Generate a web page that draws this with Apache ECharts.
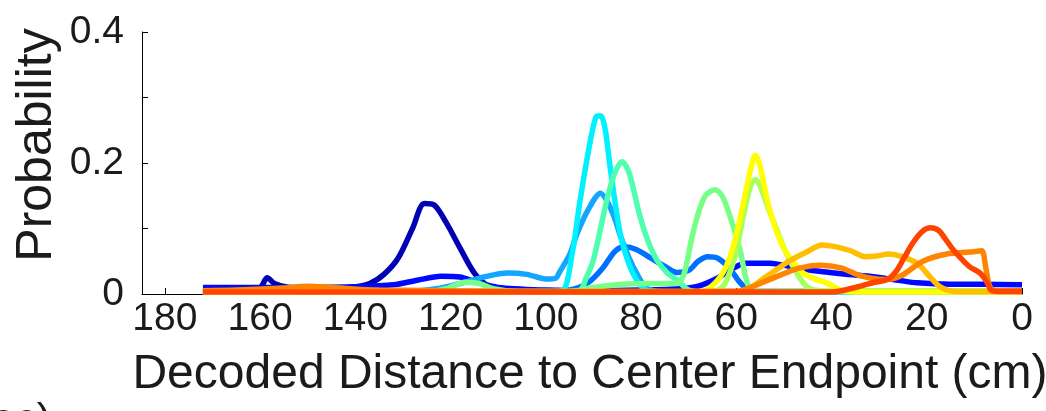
<!DOCTYPE html>
<html>
<head>
<meta charset="utf-8">
<title>Decoded distance probability</title>
<script src="https://cdn.jsdelivr.net/npm/echarts@6/dist/echarts.min.js"></script>
<style>
  html, body { margin: 0; padding: 0; background: #fff; }
  #chart { width: 1046px; height: 411px; }
</style>
</head>
<body>
<div id="chart"></div>
<script>
  // tick labels
  var xTicks = [0, 20, 40, 60, 80, 100, 120, 140, 160, 180];
  var yLabels = [0, 0.2, 0.4];

  // decoded distance (cm), probability -- one list per trace
  var trace125 = [[172,0.006],[165,0.006],[160,0.01],[158.5,0.025],[157,0.016],[154,0.01],[148,0.008],[141,0.01],[137,0.016],[134,0.03],[131,0.055],[128,0.1],[125.5,0.138],[123.5,0.136],[121,0.11],[118,0.07],[115,0.032],[112,0.012],[108,0.005],[100,0.003],[80,0.003],[60,0.004],[40,0.004],[20,0.004],[0,0.004]];
  var trace120 = [[172,0.01],[150,0.01],[140,0.011],[132,0.014],[127,0.021],[122,0.027],[118,0.026],[115,0.019],[110,0.01],[100,0.006],[90,0.005],[80,0.006],[72,0.008],[68,0.012],[64,0.024],[61,0.038],[58,0.047],[53,0.047],[48,0.041],[43,0.035],[38,0.031],[32,0.027],[26,0.021],[22,0.017],[15,0.015],[8,0.015],[0,0.014]];
  var trace83 = [[172,0.004],[100,0.004],[95,0.006],[91,0.018],[88,0.04],[85.5,0.065],[83.5,0.072],[81,0.068],[78,0.055],[75,0.042],[72.5,0.033],[70,0.036],[68,0.05],[66,0.057],[64,0.055],[61.5,0.04],[59.5,0.02],[57.5,0.006],[55,0.003],[0,0.003]];
  var trace89 = [[172,0.004],[130,0.004],[123,0.008],[118,0.016],[113,0.026],[108,0.032],[104,0.03],[100,0.023],[98,0.024],[97,0.035],[95,0.06],[93.4,0.093],[91,0.13],[88.5,0.154],[87,0.14],[85.5,0.115],[84.4,0.09],[82.5,0.055],[80.8,0.03],[79,0.01],[76,0.004],[0,0.003]];
  var trace89b = [[172,0.003],[100,0.003],[96.5,0.005],[94.5,0.06],[92.8,0.143],[91,0.22],[89.5,0.27],[88.5,0.272],[87.5,0.25],[86.5,0.194],[84.4,0.093],[82.5,0.045],[80.8,0.02],[79,0.006],[76,0.003],[0,0.003]];
  var trace84 = [[172,0.003],[100,0.003],[93,0.005],[91.5,0.025],[90,0.052],[87.2,0.143],[85.5,0.185],[84,0.202],[82.5,0.185],[80.2,0.118],[78.5,0.08],[76.7,0.052],[74.5,0.032],[72.4,0.021],[70,0.006],[67,0.003],[0,0.003]];
  var trace65 = [[172,0.003],[126,0.003],[121,0.008],[117,0.018],[114,0.016],[111,0.008],[106,0.004],[95,0.004],[90,0.01],[84,0.015],[78,0.016],[72.5,0.016],[71,0.03],[69.5,0.08],[68.2,0.118],[66.5,0.15],[64.5,0.159],[63,0.15],[62,0.133],[60.5,0.1],[59.2,0.067],[58,0.025],[57,0.008],[54,0.004],[40,0.005],[10,0.005],[6,0.004],[0,0.004]];
  var trace56 = [[172,0.003],[66,0.003],[63,0.01],[61.5,0.03],[60,0.065],[58.5,0.12],[57,0.165],[56,0.175],[55,0.165],[53.5,0.135],[51.5,0.098],[49.5,0.062],[47.3,0.032],[45,0.01],[42,0.005],[0,0.005]];
  var trace56b = [[172,0.003],[68,0.003],[65.5,0.01],[63,0.03],[61.3,0.057],[60,0.09],[58.8,0.128],[57,0.19],[56,0.212],[55,0.195],[53.5,0.143],[52,0.105],[50.2,0.072],[48,0.048],[46,0.032],[43.5,0.023],[41,0.017],[38,0.006],[35,0.003],[0,0.003]];
  var trace42 = [[172,0.004],[60,0.004],[57,0.01],[54,0.025],[51,0.04],[48.5,0.052],[45,0.065],[42,0.075],[39,0.072],[36,0.066],[33,0.057],[30.5,0.058],[28,0.061],[25.6,0.058],[22,0.047],[19.3,0.026],[17,0.01],[14,0.004],[0,0.004]];
  var trace10 = [[172,0.005],[165,0.006],[155,0.009],[150,0.012],[145,0.01],[135,0.006],[100,0.004],[60,0.004],[54.4,0.018],[51,0.028],[47,0.039],[42.4,0.044],[38,0.04],[34,0.028],[29,0.022],[25.6,0.027],[20.8,0.05],[15.8,0.061],[11,0.064],[8.5,0.066],[7.6,0.04],[6.5,0.008],[4,0.005],[0,0.005]];
  var trace20 = [[172,0.003],[40,0.003],[35,0.01],[31,0.018],[28.3,0.022],[26.5,0.034],[25,0.052],[23,0.077],[21,0.095],[19.3,0.101],[17.5,0.097],[16,0.083],[14.4,0.067],[12.5,0.052],[10.9,0.041],[8.8,0.032],[7.5,0.02],[6.5,0.006],[5,0.004],[0,0.004]];

  var traces = [trace125, trace120, trace83, trace89, trace89b, trace84, trace65, trace56, trace56b, trace42, trace10, trace20];
  var colors = ['#0000b4', '#0008ff', '#0070ff', '#12a6ff', '#00f2ff', '#4fffb0', '#78ff88', '#a6ff5a', '#ffff00', '#ffbf00', '#ff8400', '#ff4400'];

  var chart = echarts.init(document.getElementById('chart'));
  var textColor = '#1c1a1a';
  var font = '"Liberation Sans", Arial, sans-serif';

  var series = traces.map(function (d, i) {
    return {
      type: 'line',
      data: d,
      showSymbol: false,
      smooth: 0.3,
      lineStyle: { color: colors[i], width: 5.5 },
      itemStyle: { color: colors[i] },
      z: 2 + i
    };
  });

  chart.setOption({
    animation: false,
    backgroundColor: '#fff',
    grid: { left: 142, right: 24, top: 32, bottom: 117, containLabel: false, outerBoundsMode: 'none' },
    xAxis: {
      type: 'value',
      min: 0,
      max: 184.8,
      inverse: true,
      name: 'Decoded Distance to Center Endpoint (cm)',
      nameLocation: 'middle',
      nameGap: 57,
      nameTextStyle: { fontSize: 48, color: textColor, fontFamily: font, padding: [0, 0, 0, 16] },
      axisLine: { show: true, onZero: false, lineStyle: { color: '#000', width: 1 } },
      axisTick: { show: true, inside: true, length: 6, customValues: xTicks, lineStyle: { color: '#000' } },
      axisLabel: { customValues: xTicks, fontSize: 39, color: textColor, fontFamily: font, margin: 6 },
      splitLine: { show: false }
    },
    yAxis: {
      type: 'value',
      position: 'left',
      min: 0,
      max: 0.4,
      interval: 0.1,
      axisLine: { show: true, onZero: false, lineStyle: { color: '#000', width: 1 } },
      axisTick: { show: true, inside: true, length: 6, lineStyle: { color: '#000' } },
      axisLabel: {
        customValues: yLabels,
        fontSize: 39, color: textColor, fontFamily: font, margin: 18,
        formatter: function (v) { return v === 0 ? '0' : v.toFixed(1); }
      },
      splitLine: { show: false }
    },
    graphic: [
      {
        type: 'text', x: 37, y: 145, rotation: Math.PI / 2,
        style: { text: 'Probability', fontSize: 50, fontFamily: font, fill: textColor, textAlign: 'center', textVerticalAlign: 'middle' }
      },
      {
        type: 'text', x: 51, y: 400,
        style: { text: 'sec)', fontSize: 43, fontFamily: font, fill: textColor, textAlign: 'right', textVerticalAlign: 'top' }
      }
    ],
    series: series
  });
</script>
</body>
</html>
